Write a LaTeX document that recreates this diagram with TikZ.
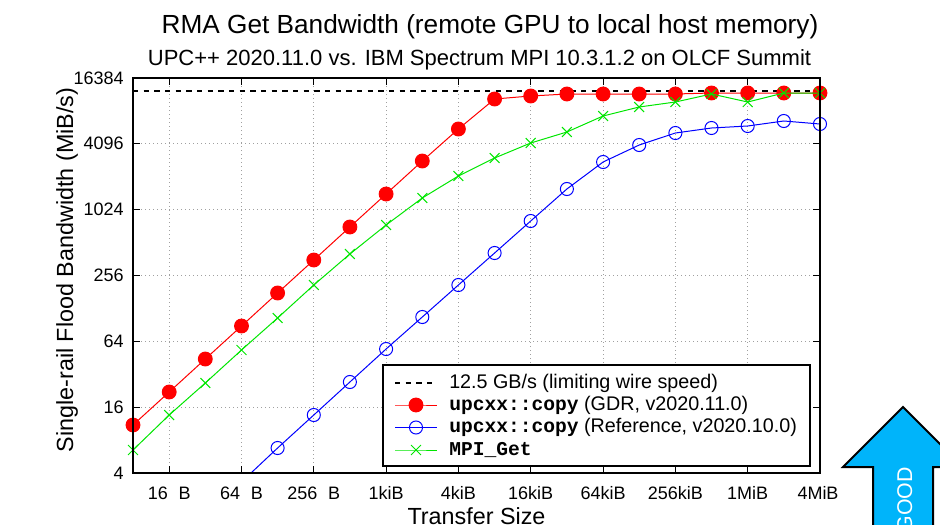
\documentclass[tikz,border=0pt]{standalone}
\usepackage{fontspec}
\usetikzlibrary{plotmarks}
\setmainfont{Liberation Sans}
\setmonofont{Liberation Mono}
\definecolor{goodblue}{RGB}{0,180,250}
\definecolor{gridgray}{RGB}{160,160,160}
\definecolor{pgreen}{RGB}{0,230,0}
\definecolor{pblue}{RGB}{0,0,255}
\definecolor{pred}{RGB}{255,0,0}
\tikzset{
  gridline/.style={gridgray, line width=0.75pt, dash pattern=on 0.75pt off 2.25pt},
  frame/.style={black, line width=1.5pt},
  tickmark/.style={black, line width=0.75pt},
  ticklab/.style={font=\fontsize{13.5pt}{15pt}\selectfont, inner sep=0pt},
  redser/.style={pred, line width=0.75pt, mark=*, mark size=5.2pt, mark options={fill=pred, draw=pred, solid}},
  blueser/.style={pblue, line width=0.75pt, mark=o, mark size=4.9pt, mark options={draw=pblue, solid}},
  greenser/.style={pgreen, line width=0.75pt, mark=x, mark size=5.2pt, mark options={draw=pgreen, solid}},
  limitline/.style={black, line width=1.2pt, dash pattern=on 4pt off 4pt},
  legtext/.style={font=\fontsize{14.8pt}{16pt}\selectfont, anchor=west, inner sep=0pt},
}
\newcommand{\mb}[1]{{\fontsize{14.7pt}{16pt}\selectfont\ttfamily\bfseries #1}}
\begin{document}
\begin{tikzpicture}[x=0.75pt,y=-0.75pt]
\useasboundingbox (0,0) rectangle (940,525);
% GOOD arrow
\draw[fill=goodblue, line width=1.5pt, line join=miter]
  (903,407) -- (963,467) -- (933,467) -- (933,560) -- (873,560) -- (873,467) -- (843,467) -- cycle;
\node[white, rotate=90, anchor=base east, inner sep=0pt, font=\fontsize{16pt}{18pt}\selectfont] (good) at (912,467) {GOOD};
% titles
\node[anchor=base, inner sep=0pt, font=\fontsize{19.65pt}{21pt}\selectfont] (title) at (490,33) {RMA Get Bandwidth (remote GPU to local host memory)};
\node[anchor=base, inner sep=0pt, font=\fontsize{16.5pt}{18pt}\selectfont] (subtitle) at (479.5,65) {UPC++ 2020.11.0 vs. IBM Spectrum MPI 10.3.1.2 on OLCF Summit};
% grid
\foreach \x in {169.2,241.5,313.8,386.1,458.4,530.7,603.1,675.4,747.7}
  \draw[gridline] (\x,78) -- (\x,473);
\foreach \y in {407.2,341.3,275.5,209.6,143.8}
  \draw[gridline] (133,\y) -- (820,\y);
% ticks
\foreach \x in {169.2,241.5,313.8,386.1,458.4,530.7,603.1,675.4,747.7} {
  \draw[tickmark] (\x,473) -- (\x,466);
  \draw[tickmark] (\x,78) -- (\x,85);
}
\foreach \y in {407.2,341.3,275.5,209.6,143.8} {
  \draw[tickmark] (133,\y) -- (140,\y);
  \draw[tickmark] (820,\y) -- (813,\y);
}
% tick labels
\foreach \y/\t in {473/4,407.2/16,341.3/64,275.5/256,209.6/1024,143.8/4096,77.9/16384}
  \node[ticklab, anchor=east] at (124,\y) {\t};
\foreach \x/\t in {169.2/16\hspace{0.6em}B,241.5/64\hspace{0.6em}B,313.8/256\hspace{0.6em}B,386.1/1kiB,458.4/4kiB,530.7/16kiB,603.1/64kiB,675.4/256kiB,747.7/1MiB,818/4MiB}
  \node[ticklab] at (\x,493) {\t};
% axis labels
\node[rotate=90, anchor=base, inner sep=0pt, font=\fontsize{17.5pt}{19pt}\selectfont] (ylab) at (73,270) {Single-rail Flood Bandwidth (MiB/s)};
\node[anchor=base, inner sep=0pt, font=\fontsize{17.5pt}{19pt}\selectfont] (xlab) at (476.5,524) {Transfer Size};
% limit line
\draw[limitline] (133,91) -- (820,91);
% series
\draw[redser] plot coordinates {(133,425) (169.2,392) (205.3,359) (241.5,326) (277.6,293) (313.8,260) (349.9,227) (386.1,194) (422.3,161) (458.4,129) (494.6,99) (530.7,96) (566.9,94) (603.1,94) (639.2,94) (675.4,94) (711.5,93) (747.7,93) (783.8,93) (820,93)};
\coordinate (bluestart) at (251,473);
\draw[pblue, line width=0.75pt] (bluestart) -- (277.6,448);
\draw[blueser] plot coordinates {(277.6,448) (313.8,415) (349.9,382) (386.1,349) (422.3,317) (458.4,285) (494.6,253) (530.7,221) (566.9,189) (603.1,162) (639.2,145) (675.4,133) (711.5,128) (747.7,126) (783.8,121) (820,124)};
\draw[greenser] plot coordinates {(133,450) (169.2,415) (205.3,383) (241.5,350) (277.6,318) (313.8,285) (349.9,254) (386.1,225) (422.3,198) (458.4,176) (494.6,158) (530.7,143) (566.9,132) (603.1,116) (639.2,107) (675.4,102) (711.5,94) (747.7,102) (783.8,93) (820,93)};
% legend
\draw[fill=white, line width=1pt] (383,365) rectangle (810,466);
\draw[limitline] (395,383) -- (437,383);
\node[legtext] (l1) at (449,383) {12.5 GB/s (limiting wire speed)};
\draw[redser, mark indices={2}] plot coordinates {(395,405) (416,405) (437,405)};
\node[legtext] (l2) at (449,405) {\mb{upcxx::copy} (GDR, v2020.11.0)};
\draw[blueser, mark indices={2}] plot coordinates {(395,427.5) (416,427.5) (437,427.5)};
\node[legtext] (l3) at (449,427.5) {\mb{upcxx::copy} (Reference, v2020.10.0)};
\draw[greenser, mark indices={2}] plot coordinates {(395,450) (416,450) (437,450)};
\node[legtext] (l4) at (449,450) {\mb{MPI\_Get}};
% frame
\draw[frame] (133,78) rectangle (820,473);
\end{tikzpicture}
\end{document}
